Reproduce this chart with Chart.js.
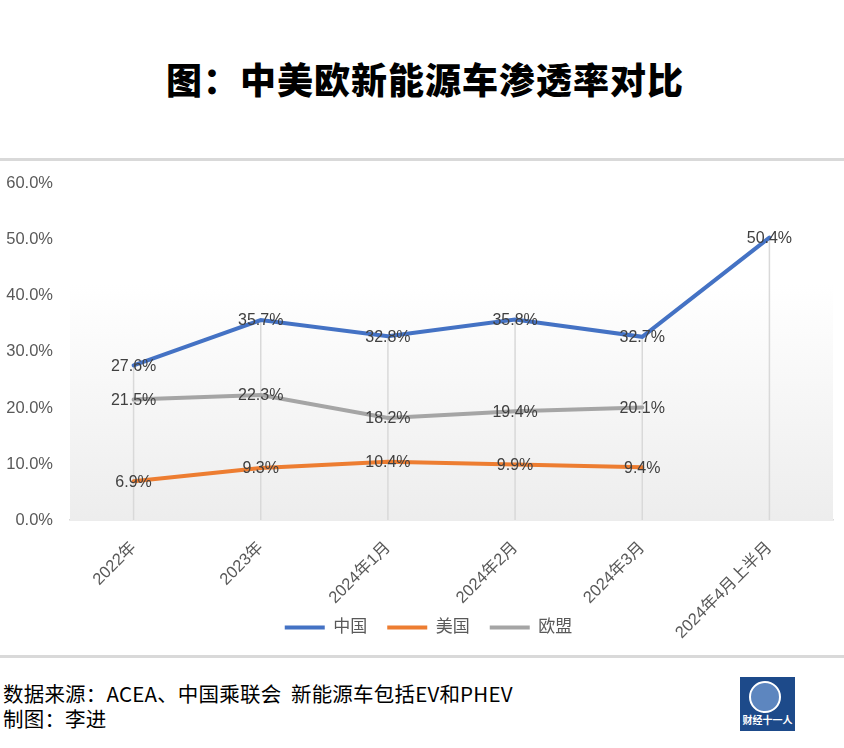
<!DOCTYPE html>
<html>
<head>
<meta charset="utf-8">
<script src="https://cdn.jsdelivr.net/npm/chart.js@4.4.1/dist/chart.umd.min.js"></script>
<style>
    body {
        margin: 0;
        width: 844px;
        height: 748px;
        background: #ffffff;
        position: relative;
        overflow: hidden;
        font-family: "Noto Sans CJK SC", "Liberation Sans", sans-serif;
    }
    #title {
        position: absolute;
        top: 52px;
        left: 0;
        width: 850px;
        text-align: center;
        font-size: 36px;
        font-weight: 900;
        color: #000000;
        letter-spacing: 1px;
    }
    .sep {
        position: absolute;
        left: 0;
        width: 844px;
        height: 3px;
        background: #d9d9d9;
    }
    #chartBox {
        position: absolute;
        top: 165px;
        left: 0;
        width: 844px;
        height: 485px;
    }
    .foot {
        position: absolute;
        left: 3px;
        font-size: 20.5px;
        letter-spacing: 0.2px;
        color: #000000;
        line-height: 24px;
        white-space: pre;
    }
    #logo {
        position: absolute;
        left: 740px;
        top: 677px;
        width: 55px;
        height: 54px;
        background: #1d4a8a;
    }
    #logo .globe {
        position: absolute;
        left: 9px;
        top: 4px;
        width: 28px;
        height: 28px;
        border-radius: 50%;
        border: 2px solid #ffffff;
        background: #5d86bf;
    }
    #logo .txt {
        position: absolute;
        left: 0;
        top: 37px;
        width: 55px;
        text-align: center;
        color: #ffffff;
        font-size: 10px;
        font-weight: 700;
        line-height: 12px;
    }
</style>
</head>
<body>
<div id="title">图：中美欧新能源车渗透率对比</div>
<div class="sep" style="top:158px"></div>
<div id="chartBox"><canvas id="penetrationChart"></canvas></div>
<div class="sep" style="top:655px"></div>
<div class="foot" style="top:681px">数据来源：ACEA、中国乘联会  新能源车包括EV和PHEV</div>
<div class="foot" style="top:706px">制图：李进</div>
<div id="logo"><div class="globe"></div><div class="txt">财经十一人</div></div>

<script>
const categories = ["2022年", "2023年", "2024年1月", "2024年2月", "2024年3月", "2024年4月上半月"];
const chinaValues = [27.6, 35.7, 32.8, 35.8, 32.7, 50.4];
const usValues = [6.9, 9.3, 10.4, 9.9, 9.4, null];
const euValues = [21.5, 22.3, 18.2, 19.4, 20.1, null];
const yTicks = [0, 10, 20, 30, 40, 50, 60];

const fontFamily = '"Liberation Sans", "Noto Sans CJK SC", sans-serif';

// plot area gradient + drop lines
const plotBackground = {
    id: "plotBackground",
    afterLayout(chart) {
        // nudge legend to the right like the original
        chart.legend.left += 12;
        chart.legend.right += 12;
    },
    beforeDatasetsDraw(chart) {
        const { ctx, chartArea: a, scales } = chart;
        ctx.save();
        const g = ctx.createLinearGradient(0, a.top, 0, a.bottom);
        g.addColorStop(0, "#ffffff");
        g.addColorStop(0.3, "#ffffff");
        g.addColorStop(1, "#ededed");
        ctx.fillStyle = g;
        ctx.fillRect(a.left, a.top, a.right - a.left, a.bottom - a.top);

        ctx.strokeStyle = "#d9d9d9";
        ctx.lineWidth = 1.5;
        categories.forEach((c, i) => {
            const vals = chart.data.datasets
                .map(ds => ds.data[i])
                .filter(v => v !== null);
            const top = Math.max(...vals);
            const x = scales.x.getPixelForValue(i);
            ctx.beginPath();
            ctx.moveTo(x, scales.y.getPixelForValue(top));
            ctx.lineTo(x, a.bottom);
            ctx.stroke();
        });
        ctx.restore();
    }
};

const valueLabels = {
    id: "valueLabels",
    afterDatasetsDraw(chart) {
        const { ctx } = chart;
        ctx.save();
        ctx.font = "16px " + fontFamily;
        ctx.fillStyle = "#404040";
        ctx.textAlign = "center";
        ctx.textBaseline = "middle";
        chart.data.datasets.forEach((ds, di) => {
            const meta = chart.getDatasetMeta(di);
            meta.data.forEach((pt, i) => {
                const v = ds.data[i];
                if (v === null) return;
                ctx.fillText(v.toFixed(1) + "%", pt.x, pt.y + 1);
            });
        });
        ctx.restore();
    }
};

new Chart(document.getElementById("penetrationChart"), {
    type: "line",
    data: {
        labels: categories,
        datasets: [
            {
                label: "中国",
                data: chinaValues,
                borderColor: "#4472c4",
                backgroundColor: "#4472c4",
                borderWidth: 4,
                borderCapStyle: "round",
                pointRadius: 0,
                tension: 0
            },
            {
                label: "美国",
                data: usValues,
                borderColor: "#ed7d31",
                backgroundColor: "#ed7d31",
                borderWidth: 4,
                borderCapStyle: "round",
                pointRadius: 0,
                tension: 0
            },
            {
                label: "欧盟",
                data: euValues,
                borderColor: "#a5a5a5",
                backgroundColor: "#a5a5a5",
                borderWidth: 4,
                borderCapStyle: "round",
                pointRadius: 0,
                tension: 0
            }
        ]
    },
    options: {
        responsive: true,
        maintainAspectRatio: false,
        animation: false,
        layout: {
            padding: { top: 15, right: 11, left: 0, bottom: 4 }
        },
        scales: {
            x: {
                offset: true,
                grid: { display: false },
                border: { color: "#d9d9d9", width: 1.5 },
                ticks: {
                    color: "#595959",
                    font: { size: 16.5, family: fontFamily },
                    minRotation: 45,
                    maxRotation: 45,
                    padding: 10
                },
                afterFit(scale) {
                    scale.height = 79;
                    // long rotated label runs past the legend, don't clip it
                    scale._computeLabelArea = () => null;
                }
            },
            y: {
                min: 0,
                max: 60,
                afterBuildTicks(scale) {
                    scale.ticks = yTicks.map(v => ({ value: v }));
                },
                grid: { display: false },
                border: { display: false },
                ticks: {
                    color: "#595959",
                    font: { size: 16.5, family: fontFamily },
                    padding: 9,
                    callback: v => v.toFixed(1) + "%"
                },
                afterFit(scale) {
                    scale.width = 70;
                }
            }
        },
        plugins: {
            legend: {
                position: "bottom",
                labels: {
                    usePointStyle: true,
                    pointStyle: "line",
                    boxWidth: 40,
                    pointStyleWidth: 40,
                    color: "#595959",
                    font: { size: 17, family: fontFamily },
                    padding: 20
                }
            },
            tooltip: { enabled: false }
        }
    },
    plugins: [plotBackground, valueLabels]
});
</script>
</body>
</html>
